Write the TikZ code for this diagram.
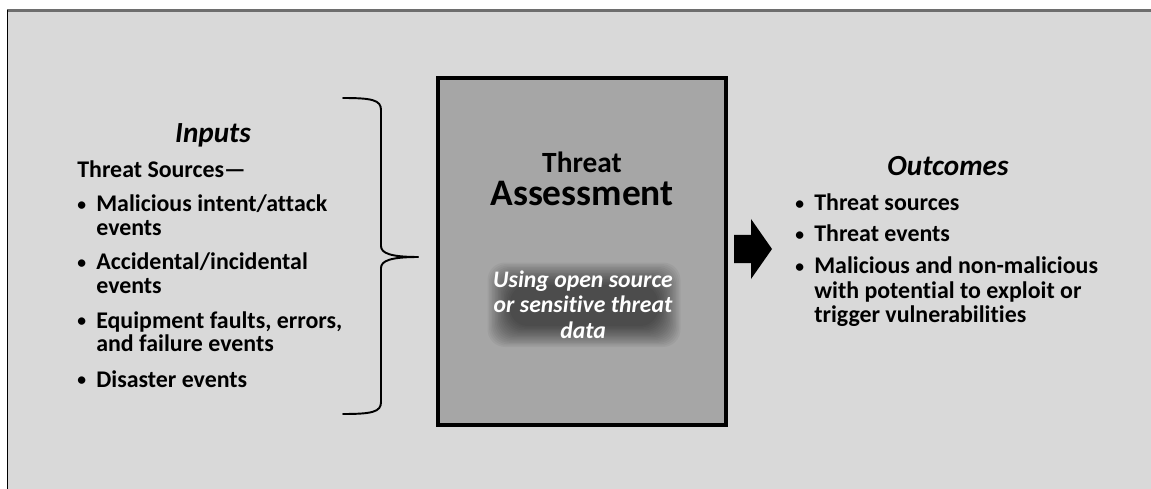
\documentclass[tikz,border=0pt]{standalone}
\usepackage{fontspec}
\setmainfont{Carlito}[Ligatures=NoCommon]
\usetikzlibrary{positioning}
\definecolor{bggray}{HTML}{D9D9D9}
\definecolor{boxgray}{HTML}{A6A6A6}
\definecolor{rimgray}{HTML}{6E6E6E}
\tikzset{
every picture/.style={x=0.02cm, y=-0.02cm},
headnode/.style={font=\fontsize{16.6}{18}\selectfont\bfseries\itshape, inner sep=0, anchor=base},
itemnode/.style={font=\fontsize{13.6}{13.5}\selectfont\bfseries, inner sep=0, anchor=base west},
assessnode/.style={rectangle, draw=black, fill=boxgray, line width=2.3pt, minimum width=5.75cm, minimum height=6.94cm},
titlenode/.style={inner sep=0, anchor=base, font=\bfseries},
datanode/.style={inner sep=0, anchor=base, align=center, text=white, font=\fontsize{13.5}{14.5}\selectfont\bfseries\itshape},
bracepath/.style={line width=1.1pt, line cap=round}
}
\newcommand{\dotmark}{\raisebox{0.9pt}{\fontsize{10}{10}\selectfont\textbullet}}
\newcommand{\bitem}[1]{\begin{tabular}[t]{@{}p{10.8pt}@{}l@{}}\dotmark & #1\end{tabular}}

\begin{document}
\begin{tikzpicture}
\useasboundingbox (0,0) rectangle (1151,489);
%Background
\fill[bggray] (7,10) rectangle (1151,489);
\draw[rimgray, line width=1.2pt] (7,10.5) -- (1151,10.5);
\draw[black, line width=0.9pt] (7.5,10) -- (7.5,489);

%Nodes
\node[assessnode] (box) at (582,251.5) {};
\node[titlenode, font=\fontsize{16.7}{18}\selectfont\bfseries] (threat) at (582,173) {Threat};
\node[titlenode, font=\fontsize{21.3}{24}\selectfont\bfseries] (assess) at (582,206) {Assessment};
\foreach \i in {0,...,15}
  \fill[black, opacity=0.045, rounded corners=10] (510-\i*1.5,285-\i*1.5) rectangle (658+\i*1.5,326+\i*1.4);
\node[datanode] (data) at (583,338) {Using open source\\or sensitive threat\\data};

\node[headnode] (inputs) at (213,143) {Inputs};
\node[itemnode] (sources) at (77,178) {Threat Sources—};
\node[itemnode] (in1) at (77,212) {\bitem{Malicious intent/attack\\ & events}};
\node[itemnode] (in2) at (77,270) {\bitem{Accidental/incidental\\ & events}};
\node[itemnode] (in3) at (77,328) {\bitem{Equipment faults, errors,\\ & and failure events}};
\node[itemnode] (in4) at (77,387) {\bitem{Disaster events}};

\node[headnode] (outcomes) at (948,176) {Outcomes};
\node[itemnode] (out1) at (795,211) {\bitem{Threat sources}};
\node[itemnode] (out2) at (795,242) {\bitem{Threat events}};
\node[itemnode, font=\fontsize{13.6}{13.8}\selectfont\bfseries] (out3) at (795,274) {\bitem{Malicious and non-malicious\\ & with potential to exploit or\\ & trigger vulnerabilities}};

%Lines
\draw[bracepath] (343,98) .. controls (372,98) and (381,100) .. (381,110) -- (381,246)
  .. controls (381,253) and (390,257) .. (418,257);
\draw[bracepath] (343,414) .. controls (372,414) and (381,412) .. (381,402) -- (381,268)
  .. controls (381,261) and (390,257) .. (418,257);
\fill[black] (734,235) -- (751,235) -- (751,219) -- (772,249) -- (751,279) -- (751,263) -- (734,263) -- cycle;
\end{tikzpicture}
\end{document}
